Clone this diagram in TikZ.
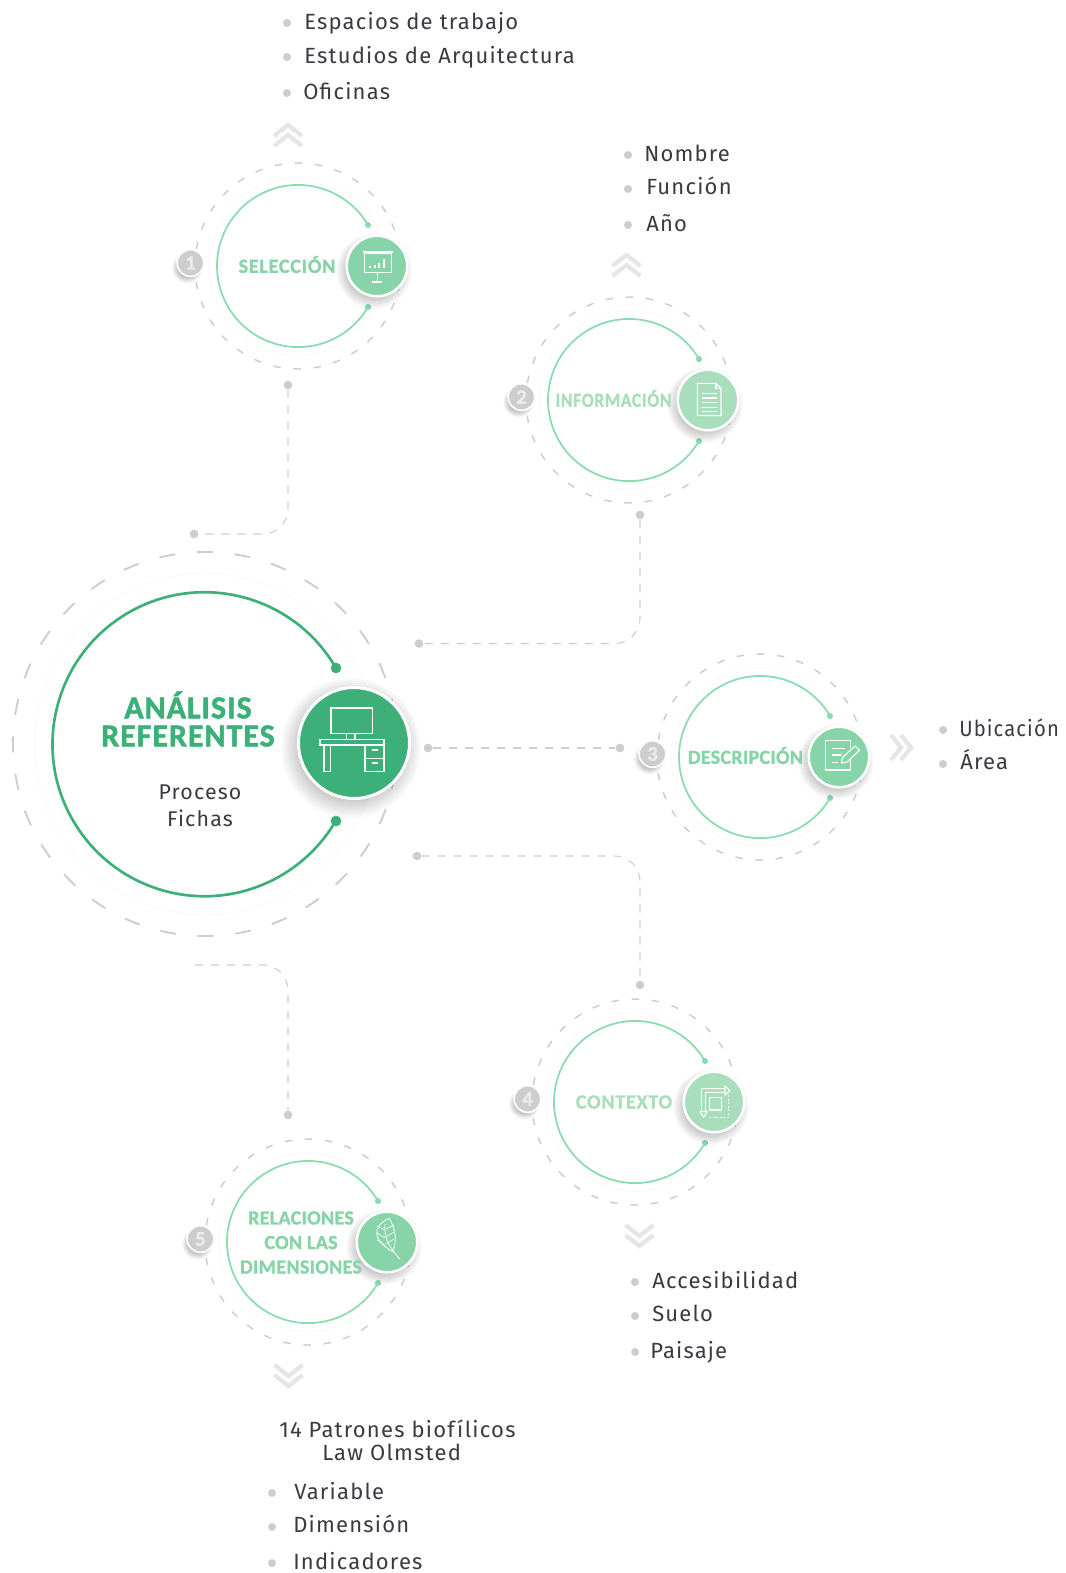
\documentclass[tikz,border=0pt]{standalone}
\usepackage{graphicx}
\usepackage{fontspec}
\setmainfont{Fira Sans}
\newfontfamily\listfont[LetterSpace=5.5]{Fira Sans}
\newfontfamily\titlefont[LetterSpace=4,BoldFeatures={FakeBold=1.2}]{Carlito}
\newfontfamily\tighttitle[LetterSpace=1.5,BoldFeatures={FakeBold=1.2}]{Carlito}
\newfontfamily\bigfont[LetterSpace=3,BoldFeatures={FakeBold=1.5}]{Carlito}
\usetikzlibrary{calc}
\definecolor{maing}{HTML}{3CB078}
\definecolor{midg}{HTML}{86D4A8}
\definecolor{ltg}{HTML}{A8DEBC}
\definecolor{ringg}{HTML}{8ADBAE}
\definecolor{lgray}{HTML}{CDCDCD}
\definecolor{chevg}{HTML}{E6E6E6}
\definecolor{txt}{HTML}{3A3A42}
\tikzset{
 x=0.75pt,y=-0.75pt,
 conn/.style={draw=lgray,line width=0.8pt,dash pattern=on 6pt off 6pt},
 cdot/.style={circle,fill=lgray,inner sep=0pt,minimum size=6.5pt},
 bullet/.style={circle,fill=lgray,inner sep=0pt,minimum size=6pt},
 item/.style={anchor=mid west,inner sep=0pt,yshift=-3pt,text=txt,font=\fontsize{16.5}{18}\selectfont\listfont},
 chev/.style={draw=chevg,line width=3.2pt,line join=miter},
 ring/.style={draw=ringg,line width=1.3pt},
 rdot/.style={circle,fill=ringg,inner sep=0pt,minimum size=4.6pt},
 dashsmall/.style={draw=lgray,line width=1.1pt,dash pattern=on 5.6pt off 9.55pt},
 dashbig/.style={draw=lgray,line width=1.4pt,dash pattern=on 12pt off 16.3pt},
 faint/.style={draw=black!2.5,line width=0.5pt},
 ico/.style={draw=white,line width=0.8pt,line join=round},
 stitle/.style={inner sep=0pt,align=center,font=\fontsize{15}{18.4}\selectfont\titlefont\bfseries},
 badge/.style={circle,fill=lgray,draw=white,line width=1.2pt,inner sep=0pt,minimum size=20pt,text=white!92!black,font=\fontsize{15.5}{16}\selectfont\bigfont\bfseries},
 icon/.style={circle,fill=#1,draw=white,line width=1.9pt,inner sep=0pt,minimum size=45.4pt},
}
% drop shadow: stacked translucent discs
\newcommand\softshadow[3]{\foreach \q in {0,...,9}{\fill[black,opacity=0.025] ($(#1)+(-3,5)$) circle[radius={(#2+\q*#3)*0.75pt}];}}
% id, cx, cy, icon colour, digit
\newcommand\satellite[5]{
 \coordinate (#1) at (#2,#3);
 \draw[faint] (#1) circle[radius=67pt];
 \draw[dashsmall,dash phase=3pt] (#1) circle[radius=77.25pt];
 \node[rdot] (#1a) at ([shift={(70,-41)}]#1) {};
 \node[rdot] (#1b) at ([shift={(70,41)}]#1) {};
 \draw[ring] (#1a.center) arc[start angle=30.4,end angle=329.6,radius=60.8pt];
 \coordinate (#1bs) at ([shift={(-107.5,-3)}]#1);
 \softshadow{#1bs}{10}{0.6}
 \node[badge] (#1n) at (#1bs) {#5};
 \coordinate (#1ic) at ([shift={(79,0)}]#1);
 \softshadow{#1ic}{26}{1.3}
 \node[icon=#4] (#1i) at (#1ic) {};
}
\newcommand\upchev[3]{\draw[chev] (#1-14,#2+11) -- (#1,#2) -- (#1+14,#2+11);\draw[chev] (#1-14,#2+21) -- (#1,#2+10) -- (#1+14,#2+21);}
\newcommand\downchev[3]{\draw[chev] (#1-14,#2) -- (#1,#2+11) -- (#1+14,#2);\draw[chev] (#1-14,#2+10) -- (#1,#2+21) -- (#1+14,#2+10);}
\begin{document}
\begin{tikzpicture}
\useasboundingbox (0,0) rectangle (1065,1573);
\fill[white] (0,0) rectangle (1065,1573);

% main circle
\coordinate (m) at (205,744);
\draw[dashbig,dash phase=6pt] (m) circle[radius=144pt];
\draw[faint] (m) circle[radius=128pt];
\node[circle,fill=maing,inner sep=0pt,minimum size=8pt] (ma) at (336,668) {};
\node[circle,fill=maing,inner sep=0pt,minimum size=8pt] (mb) at (336,821) {};
\draw[draw=maing,line width=2pt] (ma.center) arc[start angle=30.1,end angle=329.9,radius=114pt];
\coordinate (mic) at (354,743);
\softshadow{mic}{50}{2.2}
\node[circle,fill=maing,draw=white,line width=2.25pt,inner sep=0pt,minimum size=83.25pt] (mi) at (mic) {};
\begin{scope}[draw=white,line width=0.9pt]
 \draw (331,708) rectangle (372.7,733.3);
 \draw (346.7,733.3) rectangle (355,739.3);
 \draw (320,739.3) rectangle (384,745);
 \draw (324,745) rectangle (330.7,771.7);
 \draw (365,745) rectangle (384,771.7);
 \draw (365,758.3) -- (384,758.3);
 \draw (372,750) -- (378,750);
 \draw (372,763) -- (378,763);
\end{scope}
\node[inner sep=0pt,text=maing,align=center,font=\fontsize{24}{21}\selectfont\bigfont\bfseries] (mt) at (188,719) {ANÁLISIS\\REFERENTES};
\node[inner sep=0pt,text=txt,align=center,font=\fontsize{16}{20}\selectfont\listfont] (ms) at (200,806) {Proceso\\Fichas};

% satellites
\satellite{s1}{298}{266}{midg}{1}
\satellite{s2}{629}{400}{ltg}{2}
\satellite{s3}{760}{757}{midg}{3}
\satellite{s4}{635}{1102}{ltg}{4}
\satellite{s5}{308}{1242}{midg}{5}

\node[stitle,text=midg] (t1) at (287,264.5) {SELECCIÓN};
\node[stitle,text=ltg] (t2) at (613.5,398.5) {\scalebox{0.875}[1]{INFORMACIÓN}};
\node[stitle,text=midg] (t3) at (745.5,755.5) {\tighttitle\bfseries DESCRIPCIÓN};
\node[stitle,text=ltg] (t4) at (624,1102) {CONTEXTO};
\node[stitle,text=midg] (t5) at (301,1242.5) {\tighttitle\bfseries RELACIONES\\\tighttitle\bfseries CON LAS\\\tighttitle\bfseries DIMENSIONES};

% icon 1
\begin{scope}
 \draw[ico] (364.3,253) rectangle (391.7,272.7);
 \draw[ico] (363,252) -- (393,252);
 \draw[ico] (377.3,272.7) -- (377.3,282);
 \draw[ico] (372.3,282) -- (382.3,282);
 \fill[white] (369,265.5) rectangle (371,268);
 \fill[white] (373.5,264.5) rectangle (375.5,268);
 \fill[white] (378,262.5) rectangle (380,268);
 \fill[white] (382.5,259) rectangle (384.5,268);
\end{scope}
% icon 2
\draw[ico] (697.3,383.3) -- (716,383.3) -- (721,388.5) -- (721,415.7) -- (697.3,415.7) -- cycle;
\draw[ico] (716,383.3) -- (716,388.5) -- (721,388.5);
\foreach \ly in {393.3,398,402.7,407.3,411.5}{\draw[ico] (701.7,\ly) -- (716.7,\ly);}
% icon 3
\draw[ico] (850.7,755) -- (850.7,770) -- (825.7,770) -- (825.7,740.7) -- (850.7,740.7) -- (850.7,748);
\draw[ico] (831.7,748.3) -- (845,748.3);
\draw[ico] (831.7,755) -- (841.7,755);
\draw[ico] (831.7,762.3) -- (838,762.3);
\draw[ico,fill=midg] (841.5,763) -- (842.5,757.5) -- (855,746) -- (859.5,750.5) -- (847,762) -- cycle;
% icon 4
\draw[ico] (701.7,1111.7) -- (701.7,1088.3) -- (725,1088.3);
\draw[ico] (705.7,1111.7) -- (705.7,1092.7) -- (724,1092.7);
\draw[ico] (725,1086) -- (730,1090.5) -- (725,1095) -- cycle;
\draw[ico] (700,1111.7) -- (707.3,1111.7) -- (703.7,1117.3) -- cycle;
\draw[ico] (709.3,1097.3) rectangle (721.7,1110);
\draw[ico,dash pattern=on 1.5pt off 1.2pt] (728.3,1095) -- (728.3,1117.3) -- (708.3,1117.3);
% icon 5
\draw[ico,line width=0.6pt] (389.3,1218.3) .. controls (372,1226) and (372,1240) .. (392.7,1251.7);
\draw[ico,line width=0.6pt] (389.3,1218.3) .. controls (396,1230) and (397,1240) .. (392.7,1251.7);
\draw[ico,line width=0.6pt] (385,1224) .. controls (384,1235) and (387,1245) .. (400,1259.3);
\foreach \ya/\yb in {1225/1230,1232/1238,1239/1245}{
 \draw[ico,line width=0.5pt] (385,\yb) -- (377,\ya+1);
 \draw[ico,line width=0.5pt] (386,\yb-1) -- (394,\ya);
}

% connectors
\node[cdot] (c1a) at (288,385) {};
\node[cdot] (c1b) at (194,534) {};
\draw[conn,rounded corners=19pt] (c1a) |- (c1b);
\node[cdot] (c2a) at (640,515) {};
\node[cdot] (c2b) at (419,643.5) {};
\draw[conn,rounded corners=19pt] (c2a) |- (c2b);
\node[cdot] (c3a) at (428,748) {};
\node[cdot] (c3b) at (620,748) {};
\draw[conn] (c3a) -- (c3b);
\node[cdot] (c4a) at (417,856) {};
\node[cdot] (c4b) at (640,985) {};
\draw[conn,rounded corners=19pt] (c4a) -| (c4b);
\coordinate (c5a) at (195,965);
\node[cdot] (c5b) at (288,1115) {};
\draw[conn,rounded corners=19pt] (c5a) -| (c5b);

% chevrons
\upchev{288}{125}{}
\upchev{626.5}{255}{}
\downchev{288.5}{1365}{}
\downchev{639.5}{1225}{}
\draw[chev] (891,735) -- (901,747.5) -- (891,760);
\draw[chev] (901,735) -- (911,747.5) -- (901,760);

% lists
\node[bullet] (b11) at (287,23) {}; \node[item] (l11) at (304,22) {Espacios de trabajo};
\node[bullet] (b12) at (287,57) {}; \node[item] (l12) at (304,56) {Estudios de Arquitectura};
\node[bullet] (b13) at (287,93) {}; \node[item] (l13) at (303,92) {Oficinas};
\node[bullet] (b21) at (628,155) {}; \node[item] (l21) at (644,154) {Nombre};
\node[bullet] (b22) at (628,189) {}; \node[item] (l22) at (646,187) {Función};
\node[bullet] (b23) at (628,225) {}; \node[item] (l23) at (646,224) {Año};
\node[bullet] (b31) at (943,730) {}; \node[item] (l31) at (959,729) {\scalebox{0.92}[1]{Ubicación}};
\node[bullet] (b32) at (943,764) {}; \node[item] (l32) at (960,762) {Área};
\node[bullet] (b41) at (635,1282) {}; \node[item] (l41) at (652,1281) {Accesibilidad};
\node[bullet] (b42) at (635,1316) {}; \node[item] (l42) at (652,1314) {Suelo};
\node[bullet] (b43) at (635,1352) {}; \node[item] (l43) at (650,1351) {Paisaje};
\node[item] (l50) at (279,1430) {14 Patrones biofílicos};
\node[item] (l51) at (322,1453) {Law Olmsted};
\node[bullet] (b52) at (272,1493) {}; \node[item] (l52) at (294,1492) {Variable};
\node[bullet] (b53) at (272,1527) {}; \node[item] (l53) at (293,1525) {Dimensión};
\node[bullet] (b54) at (272,1563) {}; \node[item] (l54) at (293,1562) {Indicadores};
\end{tikzpicture}
\end{document}
